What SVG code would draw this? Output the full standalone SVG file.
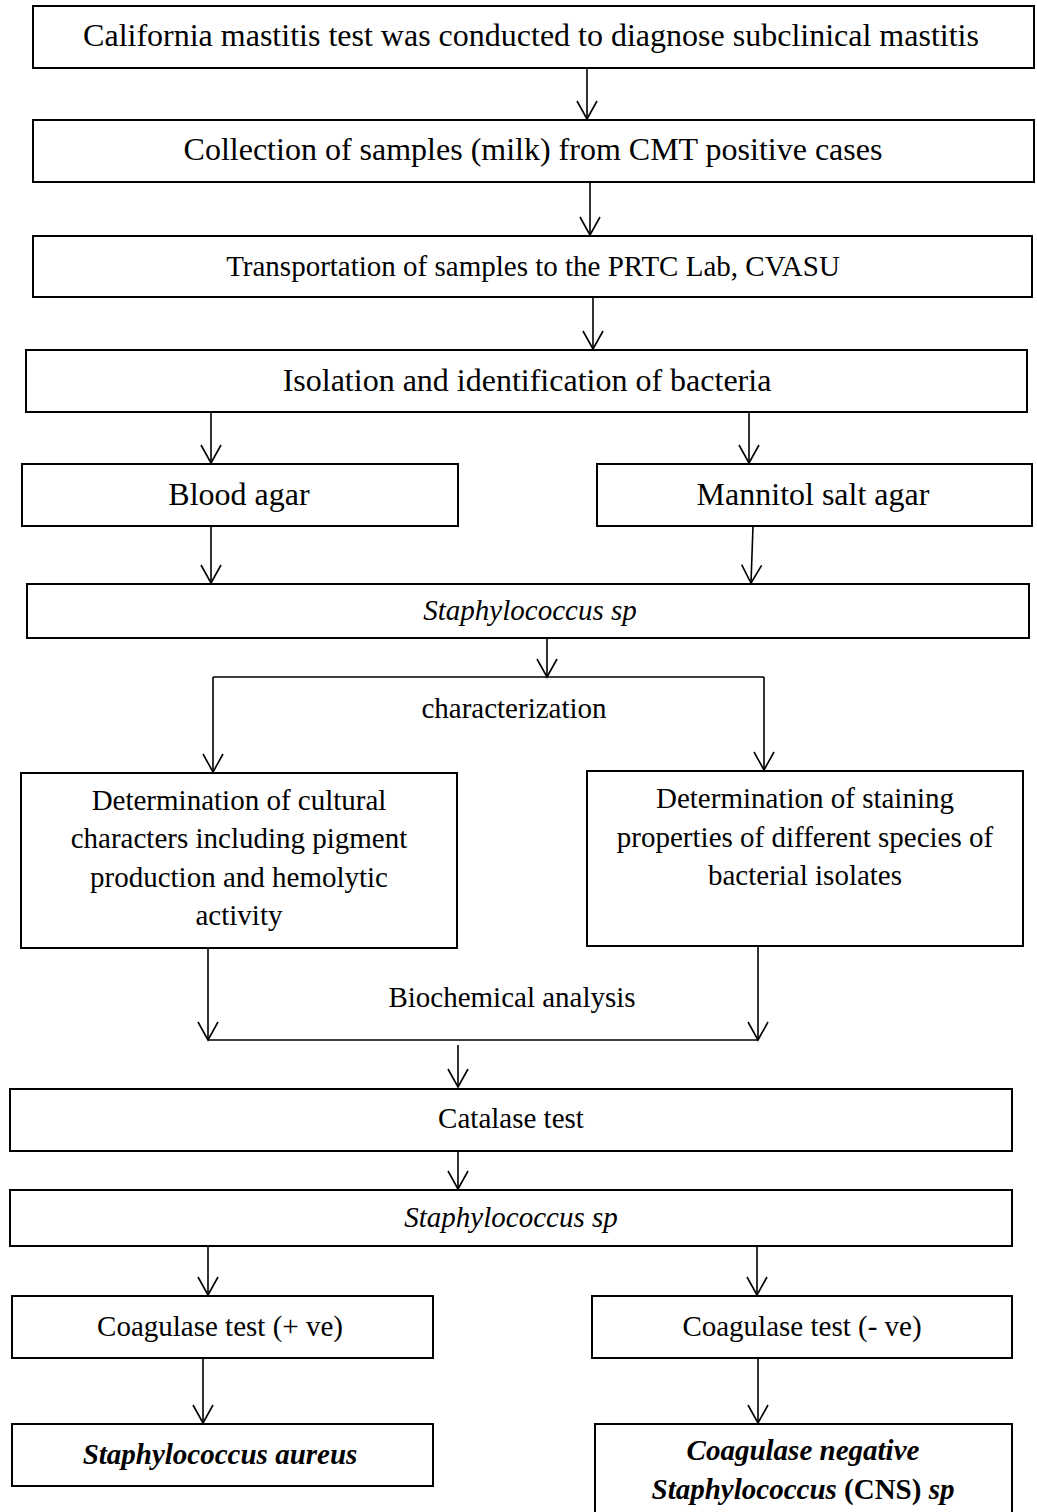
<svg xmlns="http://www.w3.org/2000/svg" width="1037" height="1512" viewBox="0 0 1037 1512">
<style>
.box{fill:#fff;stroke:#000;stroke-width:2}
.t{font-family:"Liberation Serif","Times New Roman",serif;fill:#000;text-anchor:middle}
.l{font-size:32px}
.m{font-size:29px}
.i{font-style:italic}
.b{font-weight:bold}
.c{fill:none;stroke:#000;stroke-width:1.6}
</style>
<defs>
<marker id="ah" viewBox="-20 -12 24 24" refX="0" refY="0" markerWidth="24" markerHeight="24" markerUnits="userSpaceOnUse" orient="auto">
<path d="M-18,-10 L0,0 L-18,10" fill="none" stroke="#000" stroke-width="1.6"/>
</marker>
</defs>
<rect width="1037" height="1512" fill="#fff"/>
<g id="connectors">
<path class="c" d="M587,68 V119" marker-end="url(#ah)"/>
<path class="c" d="M590,182 V235" marker-end="url(#ah)"/>
<path class="c" d="M593,297 V349" marker-end="url(#ah)"/>
<path class="c" d="M211,412 V463" marker-end="url(#ah)"/>
<path class="c" d="M749,412 V463" marker-end="url(#ah)"/>
<path class="c" d="M211,526 V583" marker-end="url(#ah)"/>
<path class="c" d="M753,526 L751,583" marker-end="url(#ah)"/>
<path class="c" d="M547,638 V677" marker-end="url(#ah)"/>
<path class="c" d="M213,677 H764"/>
<path class="c" d="M213,677 V772" marker-end="url(#ah)"/>
<path class="c" d="M764,677 V770" marker-end="url(#ah)"/>
<path class="c" d="M208,948 V1040" marker-end="url(#ah)"/>
<path class="c" d="M758,946 V1040" marker-end="url(#ah)"/>
<path class="c" d="M208,1040 H758"/>
<path class="c" d="M458,1045 V1087" marker-end="url(#ah)"/>
<path class="c" d="M458,1151 V1189" marker-end="url(#ah)"/>
<path class="c" d="M208,1246 V1295" marker-end="url(#ah)"/>
<path class="c" d="M757,1246 V1295" marker-end="url(#ah)"/>
<path class="c" d="M203,1358 V1423" marker-end="url(#ah)"/>
<path class="c" d="M758,1358 V1423" marker-end="url(#ah)"/>
<text class="t m" x="514" y="718">characterization</text>
<text class="t m" x="512" y="1007">Biochemical analysis</text>
</g>
<g id="n1"><rect class="box" x="33" y="6" width="1001" height="62"/><text class="t l" x="531" y="46">California mastitis test was conducted to diagnose subclinical mastitis</text></g>
<g id="n2"><rect class="box" x="33" y="120" width="1001" height="62"/><text class="t l" x="533" y="160">Collection of samples (milk) from CMT positive cases</text></g>
<g id="n3"><rect class="box" x="33" y="236" width="999" height="61"/><text class="t m" x="533" y="276">Transportation of samples to the PRTC Lab, CVASU</text></g>
<g id="n4"><rect class="box" x="26" y="350" width="1001" height="62"/><text class="t l" x="527" y="391">Isolation and identification of bacteria</text></g>
<g id="n5"><rect class="box" x="22" y="464" width="436" height="62"/><text class="t l" x="239" y="505">Blood agar</text></g>
<g id="n6"><rect class="box" x="597" y="464" width="435" height="62"/><text class="t l" x="813" y="505">Mannitol salt agar</text></g>
<g id="n7"><rect class="box" x="27" y="584" width="1002" height="54"/><text class="t m i" x="530" y="620">Staphylococcus sp</text></g>
<g id="n8"><rect class="box" x="21" y="773" width="436" height="175"/>
<text class="t m" x="239" y="810">Determination of cultural</text>
<text class="t m" x="239" y="848">characters including pigment</text>
<text class="t m" x="239" y="887">production and hemolytic</text>
<text class="t m" x="239" y="925">activity</text></g>
<g id="n9"><rect class="box" x="587" y="771" width="436" height="175"/>
<text class="t m" x="805" y="808">Determination of staining</text>
<text class="t m" x="805" y="847">properties of different species of</text>
<text class="t m" x="805" y="885">bacterial isolates</text></g>
<g id="n10"><rect class="box" x="10" y="1089" width="1002" height="62"/><text class="t m" x="511" y="1128">Catalase test</text></g>
<g id="n11"><rect class="box" x="10" y="1190" width="1002" height="56"/><text class="t m i" x="511" y="1227">Staphylococcus sp</text></g>
<g id="n12"><rect class="box" x="12" y="1296" width="421" height="62"/><text class="t m" x="220" y="1336">Coagulase test (+ ve)</text></g>
<g id="n13"><rect class="box" x="592" y="1296" width="420" height="62"/><text class="t m" x="802" y="1336">Coagulase test (- ve)</text></g>
<g id="n14"><rect class="box" x="12" y="1424" width="421" height="62"/><text class="t m i b" x="220" y="1464">Staphylococcus aureus</text></g>
<g id="n15"><rect class="box" x="595" y="1424" width="417" height="110"/>
<text class="t m i b" x="803" y="1460">Coagulase negative</text>
<text class="t m b" x="803" y="1499"><tspan class="i">Staphylococcus</tspan> (CNS) <tspan class="i">sp</tspan></text></g>
</svg>
